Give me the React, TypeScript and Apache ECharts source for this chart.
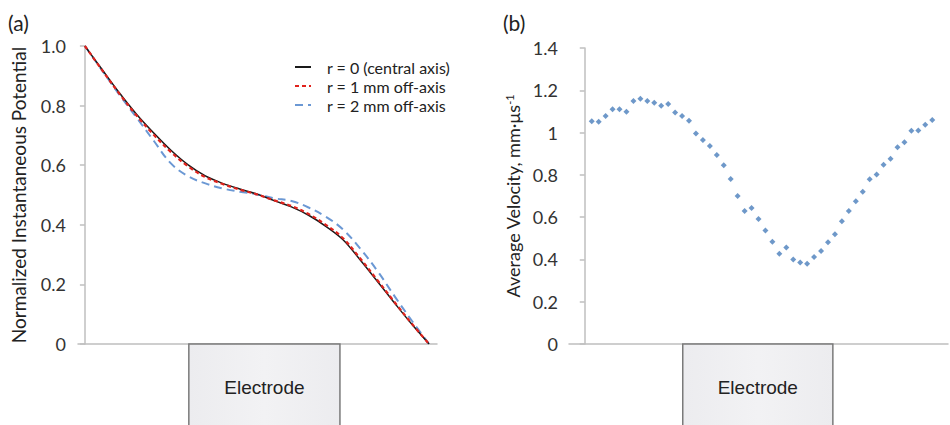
import React, { useEffect, useRef } from "react";
import * as echarts from "echarts";

// Panel (a): normalized position along the gap (0 = left end, 1 = right end)
const positionA = [0, 0.05, 0.1, 0.15, 0.2, 0.25, 0.3, 0.35, 0.4, 0.45, 0.5, 0.55, 0.6, 0.65, 0.7, 0.75, 0.8, 0.85, 0.9, 0.95, 1];
const potentialR0 = [1.0, 0.921, 0.843, 0.771, 0.708, 0.65, 0.601, 0.564, 0.539, 0.52, 0.503, 0.481, 0.46, 0.432, 0.395, 0.35, 0.282, 0.21, 0.137, 0.066, 0];
const potentialR1 = [1.0, 0.919, 0.84, 0.767, 0.702, 0.644, 0.596, 0.56, 0.537, 0.518, 0.502, 0.482, 0.463, 0.436, 0.4, 0.355, 0.287, 0.214, 0.14, 0.068, 0];
const potentialR2 = [1.0, 0.918, 0.837, 0.76, 0.682, 0.606, 0.563, 0.539, 0.522, 0.511, 0.502, 0.489, 0.48, 0.458, 0.427, 0.384, 0.32, 0.245, 0.16, 0.078, 0];
const seriesNamesA = ["r = 0 (central axis)", "r = 1 mm off-axis", "r = 2 mm off-axis"];

// Panel (b): sample index along the gap and average velocity
const sampleB = [1, 2, 3, 4, 5, 6, 7, 8, 9, 10, 11, 12, 13, 14, 15, 16, 17, 18, 19, 20, 21, 22, 23, 24, 25, 26, 27, 28, 29, 30, 31, 32, 33, 34, 35, 36, 37, 38, 39, 40, 41, 42, 43, 44, 45, 46, 47, 48, 49, 50];
const velocityB = [1.054, 1.051, 1.078, 1.11, 1.11, 1.098, 1.149, 1.16, 1.149, 1.141, 1.127, 1.135, 1.095, 1.078, 1.056, 0.996, 0.965, 0.936, 0.894, 0.846, 0.78, 0.7, 0.629, 0.643, 0.591, 0.537, 0.484, 0.427, 0.457, 0.4, 0.386, 0.38, 0.411, 0.44, 0.481, 0.519, 0.58, 0.629, 0.675, 0.72, 0.779, 0.802, 0.848, 0.876, 0.931, 0.954, 1.009, 1.01, 1.037, 1.059];

// Electrode extents in each panel's x units
const electrodeA = [0.302, 0.741];
const electrodeB = [14.1, 35.7];

const FONT = "Lato";
const AXIS_COLOR = "#bfbfbf";
const TEXT_COLOR = "#333333";

export default function App() {
  const ref = useRef<HTMLDivElement>(null);

  useEffect(() => {
    if (!ref.current) return;
    const chart = echarts.init(ref.current, undefined, { renderer: "svg" });

    const yAxisBase = {
      type: "value" as const,
      min: 0,
      interval: 0.2,
      splitLine: { show: false },
      axisLine: { show: true, lineStyle: { color: AXIS_COLOR, width: 1.5 } },
      axisTick: { show: true, length: 5, lineStyle: { color: AXIS_COLOR, width: 1.5 } },
      nameLocation: "middle" as const,
      nameRotate: 90,
    };
    const xAxisBase = {
      type: "value" as const,
      splitLine: { show: false },
      axisLine: { show: true, onZero: false, lineStyle: { color: AXIS_COLOR, width: 1.5 } },
      axisTick: { show: false },
      axisLabel: { show: false },
    };

    const zip = (xs: number[], ys: number[]) => xs.map((x, i) => [x, ys[i]]);

    chart.setOption({
      animation: false,
      grid: [
        { left: 78, top: 46, width: 359, height: 298 },
        { left: 569, top: 48, width: 379, height: 296 },
      ],
      xAxis: [
        { ...xAxisBase, gridIndex: 0, min: -0.02, max: 1.023 },
        { ...xAxisBase, gridIndex: 1, min: -2.27, max: 52.27 },
      ],
      yAxis: [
        {
          ...yAxisBase,
          gridIndex: 0,
          max: 1,
          name: "Normalized Instantaneous Potential",
          nameGap: 50,
          nameTextStyle: { fontFamily: FONT, fontSize: 19, color: "#222" },
          axisLabel: {
            fontFamily: FONT,
            fontSize: 18,
            color: TEXT_COLOR,
            margin: 12,
            formatter: (v: number) => (v === 0 ? "0" : v.toFixed(1)),
          },
        },
        {
          ...yAxisBase,
          gridIndex: 1,
          max: 1.4,
          name: "Average Velocity, mm·μs{sup|-1}",
          nameGap: 47,
          nameTextStyle: {
            fontFamily: FONT,
            fontSize: 18,
            color: "#222",
            rich: {
              sup: { fontFamily: FONT, fontSize: 11, color: "#222", verticalAlign: "top", lineHeight: 18 },
            },
          },
          axisLabel: {
            fontFamily: FONT,
            fontSize: 18,
            color: TEXT_COLOR,
            margin: 11,
            formatter: (v: number) => String(Math.round(v * 10) / 10),
          },
        },
      ],
      legend: {
        left: 289,
        top: 54,
        orient: "vertical",
        itemWidth: 16,
        itemHeight: 14,
        itemGap: 3,
        data: seriesNamesA,
        itemStyle: { opacity: 0 },
        textStyle: {
          fontFamily: FONT,
          fontSize: 16,
          lineHeight: 16,
          color: "#222",
          padding: [0, 0, 0, 11],
        },
      },
      series: [
        {
          name: seriesNamesA[0],
          type: "line",
          xAxisIndex: 0,
          yAxisIndex: 0,
          data: zip(positionA, potentialR0),
          smooth: 0.35,
          symbol: "none",
          lineStyle: { color: "#1a1a1a", width: 1.5, type: "solid" },
          itemStyle: { color: "#1a1a1a" },
          z: 3,
        },
        {
          name: seriesNamesA[1],
          type: "line",
          xAxisIndex: 0,
          yAxisIndex: 0,
          data: zip(positionA, potentialR1),
          smooth: 0.35,
          symbol: "none",
          lineStyle: { color: "#e0221c", width: 2.2, type: [4, 3] },
          itemStyle: { color: "#e0221c" },
          z: 4,
        },
        {
          name: seriesNamesA[2],
          type: "line",
          xAxisIndex: 0,
          yAxisIndex: 0,
          data: zip(positionA, potentialR2),
          smooth: 0.4,
          symbol: "none",
          lineStyle: { color: "#6b98d4", width: 2, type: [8, 5] },
          itemStyle: { color: "#6b98d4" },
          z: 2,
        },
        {
          name: "velocity",
          type: "scatter",
          xAxisIndex: 1,
          yAxisIndex: 1,
          data: zip(sampleB, velocityB),
          symbol: "diamond",
          symbolSize: 6,
          itemStyle: { color: "#4a7ebb" },
        },
      ],
    });

    const boxGraphic = (xAxisIndex: number, yAxisIndex: number, ext: number[]) => {
      const x0 = chart.convertToPixel({ xAxisIndex }, ext[0]) as number;
      const x1 = chart.convertToPixel({ xAxisIndex }, ext[1]) as number;
      const y0 = chart.convertToPixel({ yAxisIndex }, 0) as number;
      return [
        {
          type: "rect",
          shape: { x: x0, y: y0, width: x1 - x0, height: 100 },
          style: {
            fill: new echarts.graphic.LinearGradient(0, 0, 1, 0, [
              { offset: 0, color: "#ececef" },
              { offset: 0.5, color: "#f2f2f4" },
              { offset: 1, color: "#ececef" },
            ]),
            stroke: "#7a7a7a",
            lineWidth: 1.5,
          },
          z: 10,
        },
        {
          type: "text",
          x: (x0 + x1) / 2,
          y: y0 + 43,
          style: {
            text: "Electrode",
            fontFamily: "Liberation Sans",
            fontSize: 19,
            fill: "#222",
            align: "center",
            verticalAlign: "middle",
          },
          z: 11,
        },
      ];
    };

    chart.setOption({
      graphic: [
        ...boxGraphic(0, 0, electrodeA),
        ...boxGraphic(1, 1, electrodeB),
        {
          type: "text",
          x: 8,
          y: 12,
          style: { text: "(a)", fontFamily: FONT, fontSize: 21, fill: "#222" },
        },
        {
          type: "text",
          x: 503,
          y: 12,
          style: { text: "(b)", fontFamily: FONT, fontSize: 21, fill: "#222" },
        },
      ],
    });

    return () => chart.dispose();
  }, []);

  return (
    <div
      ref={ref}
      style={{ position: "fixed", left: 0, top: 0, width: 950, height: 425, background: "#fff" }}
    />
  );
}
